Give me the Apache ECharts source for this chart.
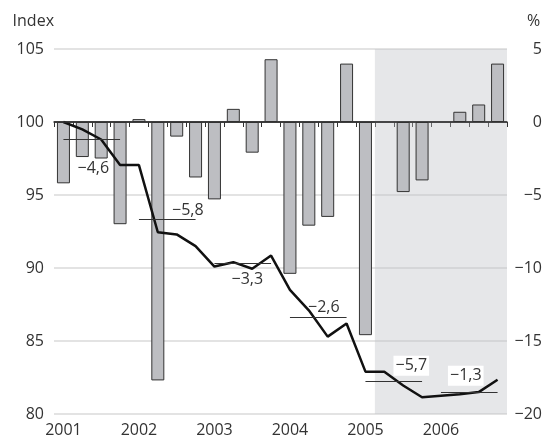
<!DOCTYPE html>
<html>
<head>
<meta charset="utf-8">
<script src="https://cdn.jsdelivr.net/npm/echarts@6/dist/echarts.min.js"></script>
<style>
html, body { margin: 0; padding: 0; background: #fff; }
#main { width: 544px; height: 443px; }
</style>
</head>
<body>
<div id="main"></div>
<script>
// years on the axis, one category per quarter
var years = ['2001', '2002', '2003', '2004', '2005', '2006'];
var quarters = [];
years.forEach(function (y) {
    for (var q = 1; q <= 4; q++) quarters.push(y + ' Q' + q);
});

// index level (left axis)
var indexValues = [100.0, 99.5, 98.8, 97.05, 97.05, 92.45, 92.3, 91.5,
    90.1, 90.4, 89.95, 90.85, 88.5, 87.1, 85.3, 86.2,
    82.9, 82.9, 81.95, 81.15, 81.25, 81.35, 81.5, 82.35];

// quarterly change in % (right axis), empty quarters as null
var changeValues = [-4.2, -2.4, -2.5, -7.0, 0.2, -17.7, -1.0, -3.8,
    -5.3, 0.9, -2.1, 4.3, -10.4, -7.1, -6.5, 4.0,
    -14.6, null, -4.8, -4.0, null, 0.7, 1.2, 4.0];

// yearly average of the index and the yearly change shown next to it
var yearAverages = [98.84, 93.33, 90.32, 86.64, 82.21, 81.46];
var yearChanges = [-4.6, -5.8, -3.3, -2.6, -5.7, -1.3];

// shaded part of the chart (quarter indexes)
var shadeFrom = 17;
var shadeTo = 23;

var FONT = '"Open Sans", "Noto Sans", sans-serif';
var TXT = '#333';

function fmt(v) {
    return String(v).replace('-', '\u2212').replace('.', ',');
}

// where each yearly label sits relative to its line
var labelPlace = [
    { position: 'insideEndBottom', distance: [11, 22] },
    { position: 'insideEndTop', distance: [-8, 1] },
    { position: 'insideEndBottom', distance: [8, 8] },
    { position: 'insideEndTop', distance: [7, 2] },
    { position: 'insideEndTop', distance: [-7, 6], bg: true },
    { position: 'insideEndTop', distance: [14, 7], bg: true }
];

var avgLines = yearAverages.map(function (v, i) {
    var p = labelPlace[i];
    var label = {
        show: true,
        formatter: fmt(yearChanges[i]),
        position: p.position,
        distance: p.distance,
        color: TXT,
        fontSize: 16,
        fontFamily: FONT
    };
    if (p.bg) {
        label.backgroundColor = '#fff';
        label.padding = [2, 2];
    }
    return [
        { coord: [i * 4, v], label: label },
        { coord: [i * 4 + 3, v] }
    ];
});

var myChart = echarts.init(document.getElementById('main'));

var option = {
    animation: false,
    grid: { left: 54, right: 37, top: 49, bottom: 29, outerBoundsMode: 'none' },
    xAxis: {
        type: 'category',
        data: quarters,
        boundaryGap: true,
        axisLine: { lineStyle: { color: TXT, width: 1.5 } },
        axisTick: { show: true, interval: 0, length: 5, lineStyle: { color: TXT, width: 1 } },
        axisLabel: {
            interval: 3,
            formatter: function (v) { return v.slice(0, 4); },
            color: TXT, fontSize: 16, fontFamily: FONT, margin: 8
        },
        splitLine: { show: false }
    },
    yAxis: [{
        type: 'value',
        position: 'left',
        min: 80, max: 105, interval: 5,
        name: 'Index',
        nameLocation: 'end',
        nameGap: 20,
        nameTextStyle: { color: TXT, fontSize: 16, fontFamily: FONT, align: 'right' },
        axisLine: { show: false },
        axisTick: { show: false },
        axisLabel: { color: TXT, fontSize: 16, fontFamily: FONT, margin: 10 },
        splitLine: { lineStyle: { color: '#dadada', width: 1.5 } }
    }, {
        type: 'value',
        position: 'right',
        min: -20, max: 5, interval: 5,
        name: '%',
        nameLocation: 'end',
        nameGap: 20,
        nameTextStyle: { color: TXT, fontSize: 16, fontFamily: FONT, align: 'left', padding: [0, 0, 0, 20] },
        axisLine: { show: false },
        axisTick: { show: false },
        axisLabel: {
            color: TXT, fontSize: 16, fontFamily: FONT, margin: 35, align: 'right',
            formatter: function (v) { return fmt(v); }
        },
        splitLine: { show: false }
    }],
    series: [{
        name: 'change',
        type: 'bar',
        yAxisIndex: 1,
        data: changeValues,
        barWidth: 13,
        z: 2,
        itemStyle: { color: '#bdbec2', borderColor: '#333', borderWidth: 1 },
        markArea: {
            silent: true,
            itemStyle: { color: 'rgb(190,193,198)', opacity: 0.38 },
            data: [[{ xAxis: shadeFrom }, { xAxis: shadeTo }]]
        },
        markLine: {
            silent: true,
            symbol: 'none',
            label: { show: false },
            lineStyle: { color: '#333', width: 1.5, type: 'solid' },
            data: [{ yAxis: 0 }]
        }
    }, {
        name: 'index',
        type: 'line',
        yAxisIndex: 0,
        data: indexValues,
        symbol: 'none',
        z: 4,
        lineStyle: { color: '#111', width: 2.5 },
        markLine: {
            silent: true,
            symbol: 'none',
            lineStyle: { color: '#333', width: 1, type: 'solid' },
            data: avgLines
        }
    }]
};

myChart.setOption(option);
</script>
</body>
</html>
